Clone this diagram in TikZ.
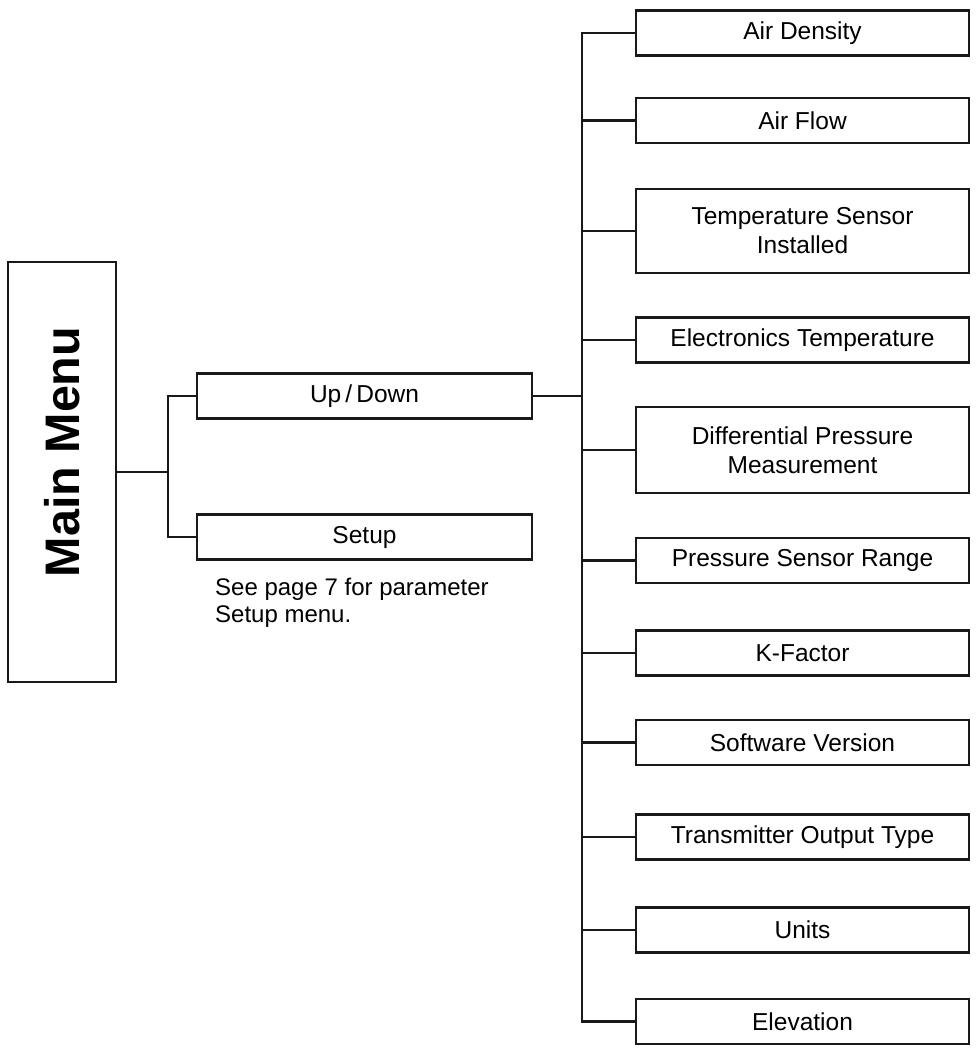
\documentclass[tikz,border=0pt]{standalone}
\usepackage{fontspec}
\setmainfont{Liberation Sans}
\begin{document}
\begin{tikzpicture}[x=1pt,y=-1pt,
  box/.style={draw=black!90, line width=2.2pt, minimum height=45pt, inner sep=0pt,
    font=\fontsize{24.5}{29}\selectfont, align=center},
  rbox/.style={box, minimum width=333pt},
  lbox/.style={box, minimum width=335pt},
  conn/.style={draw=black!90, line width=2.2pt, line join=miter}]
\useasboundingbox (0,0) rectangle (975,1051);
% main menu
\node[box, minimum width=108pt, minimum height=420pt] (mm) at (62,472)
  {\fontsize{48.5}{50}\selectfont\bfseries\rotatebox{90}{\hspace*{40pt}Main Menu}};
% left boxes
\node[lbox] (ud) at (364.5,396) {Up\,/\,Down};
\node[lbox] (su) at (364.5,537) {Setup};
\node[anchor=north west, inner sep=0pt, align=left, font=\fontsize{24}{27}\selectfont] (note) at (215,578)
  {See page 7 for parameter\\Setup menu.};
% right boxes
\node[rbox] (r1) at (802.5,33) {Air Density};
\node[rbox] (r2) at (802.5,120.5) {Air Flow};
\node[rbox, minimum height=84pt] (r3) at (802.5,231) {Temperature Sensor\\Installed};
\node[rbox] (r4) at (802.5,340) {Electronics Temperature};
\node[rbox, minimum height=86pt] (r5) at (802.5,450) {Differential Pressure\\Measurement};
\node[rbox] (r6) at (802.5,560.5) {Pressure Sensor Range};
\node[rbox] (r7) at (802.5,653) {K-Factor};
\node[rbox] (r8) at (802.5,742.5) {Software Version};
\node[rbox] (r9) at (802.5,837) {Transmitter Output Type};
\node[rbox] (r10) at (802.5,930) {Units};
\node[rbox] (r11) at (802.5,1021.5) {Elevation};
% junctions
\coordinate (jl) at (168,472);
\coordinate (jr) at (582,396);
% left connectors
\draw[conn] (mm.east) -- (jl);
\draw[conn] (ud.west) -| (jl) |- (su.west);
% right connectors
\draw[conn] (ud.east) -- (jr);
\draw[conn] (r1.west) -- (r1.west -| jr) -- (r11.west -| jr) -- (r11.west);
\foreach \n in {r2,r3,r4,r5,r6,r7,r8,r9,r10}
  \draw[conn] (\n.west -| jr) -- (\n.west);
\end{tikzpicture}
\end{document}
